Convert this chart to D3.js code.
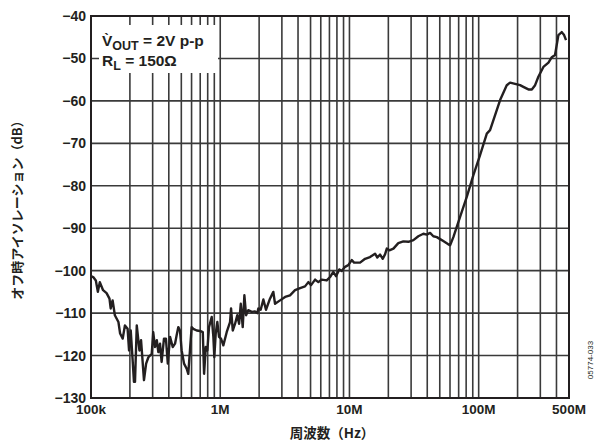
<!DOCTYPE html>
<html>
<head>
<meta charset="utf-8">
<script src="https://cdn.jsdelivr.net/npm/d3@7"></script>
<style>
  body { margin: 0; background: #fff; }
  svg text { font-family: "Liberation Sans", Arial, sans-serif; font-weight: bold; fill: #231f20; }
  .cjk { font-family: "Noto Sans CJK JP", sans-serif; }
</style>
</head>
<body>
<svg id="chart" width="598" height="448"></svg>
<script>
// frequency (MHz) and off isolation (dB)
const freqMHz = [
  0.1, 0.104, 0.109, 0.113, 0.117, 0.124, 0.132, 0.139, 0.142, 0.147,
  0.153, 0.163, 0.168, 0.176, 0.183, 0.192, 0.197, 0.203, 0.210, 0.215,
  0.219, 0.226, 0.237, 0.244, 0.257, 0.267, 0.278, 0.295, 0.303, 0.313,
  0.323, 0.332, 0.342, 0.352, 0.367, 0.380, 0.393, 0.409, 0.429, 0.447,
  0.460, 0.474, 0.488, 0.503, 0.525, 0.550, 0.566, 0.583, 0.601, 0.619,
  0.658, 0.698, 0.733, 0.750, 0.773, 0.795, 0.819, 0.859, 0.885, 0.900,
  0.923, 0.950, 0.979, 1.014, 1.057, 1.122, 1.191, 1.213, 1.250, 1.303,
  1.355, 1.400, 1.442, 1.493, 1.538, 1.585, 1.648, 1.754, 1.858, 1.937,
  1.972, 2.056, 2.157, 2.260, 2.427, 2.576, 2.655, 2.904, 3.177, 3.467,
  3.793, 4.150, 4.531, 4.808, 5.047, 5.420, 5.745, 6.106, 6.670, 7.079,
  7.499, 7.870, 8.356, 8.710, 9.247, 9.795, 10.42, 10.86, 12.08, 13.21,
  14.42, 15.78, 16.44, 17.26, 18.11, 18.88, 19.45, 20.37, 21.88, 23.88,
  26.12, 28.58, 31.26, 34.12, 37.33, 39.63, 42.07, 44.57, 47.42, 51.76,
  58.21, 60.1, 63.7, 71.8, 80.9, 91.0, 102.5, 115.6, 122.5, 146.5,
  164.9, 174.9, 191.4, 209.1, 221.7, 242.6, 257.8, 273.3, 289.7, 316.9,
  346.7, 368.1, 389.9, 413.9, 439.5, 458.1, 474.3
];
const isolationDb = [
  -101.3, -101.5, -102.3, -105.0, -102.7, -104.6, -105.3, -106.6, -108.9, -107.0,
  -110.5, -112.1, -114.8, -116.0, -112.9, -113.7, -118.8, -114.1, -121.1, -126.2,
  -126.2, -112.9, -118.8, -116.4, -125.8, -121.9, -120.4, -119.6, -114.5, -118.0,
  -116.4, -119.2, -117.2, -121.5, -116.0, -116.0, -121.9, -115.6, -118.0, -117.2,
  -115.2, -113.3, -114.1, -118.8, -121.9, -123.1, -124.3, -118.8, -113.3, -113.7,
  -114.1, -114.2, -114.5, -124.3, -118.0, -118.8, -113.3, -110.9, -115.6, -120.4,
  -114.8, -112.1, -115.6, -116.0, -117.6, -114.5, -112.1, -108.9, -114.1, -112.5,
  -110.5, -112.5, -107.8, -113.3, -105.8, -110.5, -109.3, -109.7, -109.6, -110.0,
  -108.9, -109.2, -106.8, -109.2, -106.6, -105.0, -107.8, -107.0, -106.2, -105.8,
  -104.6, -104.1, -103.7, -102.7, -103.4, -102.1, -102.7, -102.1, -102.3, -101.5,
  -100.3, -101.3, -99.7, -100.1, -99.1, -98.7, -97.5, -98.1, -98.1, -97.2,
  -96.8, -96.0, -96.9, -96.2, -97.2, -96.1, -94.8, -95.2, -94.8, -93.5,
  -93.1, -93.2, -92.8, -91.9, -91.3, -91.5, -91.1, -91.9, -92.1, -92.8,
  -93.8, -94.0, -92.1, -87.3, -82.6, -77.5, -72.8, -67.7, -66.9, -59.8,
  -56.3, -55.7, -56.0, -56.3, -56.7, -57.3, -57.3, -56.3, -54.3, -52.0,
  -51.0, -49.7, -49.2, -44.5, -43.8, -44.5, -45.7
];
const xTickValues = [0.1, 1, 10, 100, 500];
const xTickLabels = ['100k', '1M', '10M', '100M', '500M'];
const yTickValues = [-40, -50, -60, -70, -80, -90, -100, -110, -120, -130];

const svg = d3.select('#chart');
const plotL = 91, plotR = 569, plotT = 16, plotB = 398;

const x = d3.scaleLog().domain([0.1, 500]).range([plotL, plotR]);
const y = d3.scaleLinear().domain([-130, -40]).range([plotB, plotT]);

// minor grid: 1..9 in each decade
const minor = [];
[0.1, 1, 10, 100].forEach(dec => {
  for (let k = 1; k <= 9; k++) {
    const v = dec * k;
    if (v <= 500) minor.push(v);
  }
});

const grid = svg.append('g');
grid.selectAll('line.v')
  .data(minor)
  .enter().append('line')
  .attr('x1', d => x(d)).attr('x2', d => x(d))
  .attr('y1', plotT).attr('y2', plotB)
  .attr('stroke', '#3a3a3a').attr('stroke-width', 1.6);

grid.selectAll('line.h')
  .data(yTickValues)
  .enter().append('line')
  .attr('x1', plotL).attr('x2', plotR)
  .attr('y1', d => y(d)).attr('y2', d => y(d))
  .attr('stroke', '#3a3a3a').attr('stroke-width', 1.6);

// legend box hides grid behind text
svg.append('rect')
  .attr('x', 99).attr('y', 25).attr('width', 119).attr('height', 48)
  .attr('fill', '#fff');

const leg = svg.append('g').style('font-size', '15.5px');
const t1 = leg.append('text').attr('x', 102).attr('y', 46);
t1.append('tspan').text('V\u0300');
t1.append('tspan').attr('dy', 3.5).style('font-size', '12.5px').text('OUT');
t1.append('tspan').attr('dy', -3.5).text(' = 2V p-p');
const t2 = leg.append('text').attr('x', 102).attr('y', 66);
t2.append('tspan').text('R');
t2.append('tspan').attr('dy', 3.5).style('font-size', '12.5px').text('L');
t2.append('tspan').attr('dy', -3.5).text(' = 150\u03a9');

// curve
const line = d3.line()
  .x((d, i) => x(freqMHz[i]))
  .y(d => y(d));

svg.append('path')
  .datum(isolationDb)
  .attr('d', line)
  .attr('fill', 'none')
  .attr('stroke', '#231f20')
  .attr('stroke-width', 2.4)
  .attr('stroke-linejoin', 'round');

// frame
svg.append('rect')
  .attr('x', plotL).attr('y', plotT)
  .attr('width', plotR - plotL).attr('height', plotB - plotT)
  .attr('fill', 'none').attr('stroke', '#231f20').attr('stroke-width', 2);

// y tick labels
svg.append('g').selectAll('text')
  .data(yTickValues)
  .enter().append('text')
  .attr('x', 86).attr('y', d => y(d) + 5)
  .attr('text-anchor', 'end')
  .style('font-size', '14px')
  .text(d => '\u2212' + Math.abs(d));

// x tick labels
svg.append('g').selectAll('text')
  .data(xTickValues)
  .enter().append('text')
  .attr('x', d => x(d)).attr('y', 414)
  .attr('text-anchor', 'middle')
  .style('font-size', '13.5px')
  .text((d, i) => xTickLabels[i]);

// axis titles
svg.append('text').attr('class', 'cjk')
  .attr('x', 332).attr('y', 438)
  .attr('text-anchor', 'middle')
  .style('font-size', '13.5px')
  .text('周波数（Hz）');

svg.append('text').attr('class', 'cjk')
  .attr('transform', 'translate(22,' + ((plotT + plotB) / 2) + ') rotate(-90)')
  .attr('text-anchor', 'middle')
  .style('font-size', '13px')
  .text('オフ時アイソレーション（dB）');

svg.append('text')
  .attr('transform', 'translate(593,360) rotate(-90)')
  .attr('text-anchor', 'middle')
  .style('font-size', '8px').style('font-weight', 'normal')
  .text('05774-033');
</script>
</body>
</html>
